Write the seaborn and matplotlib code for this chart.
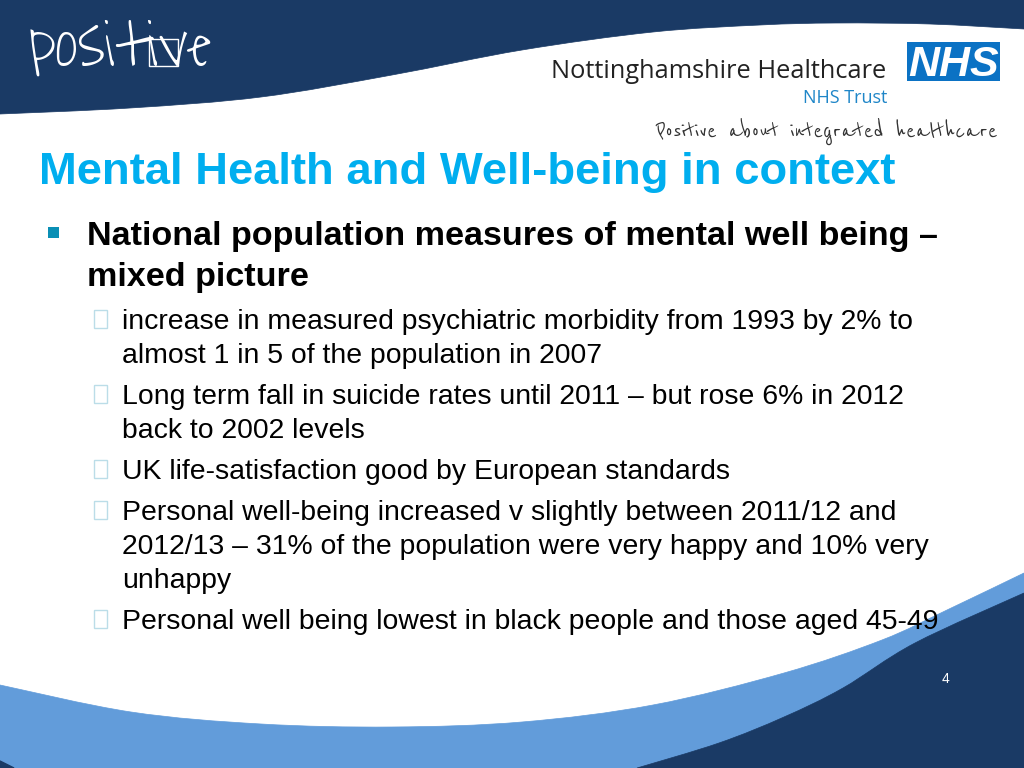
import numpy as np
import pandas as pd
import matplotlib
matplotlib.use("Agg")
import matplotlib.pyplot as plt
from matplotlib.patches import Rectangle, PathPatch
from matplotlib.path import Path
import seaborn as sns

NAVY = "#1A3A65"
LIGHT = "#629CDA"
CYAN = "#00AEEF"

top_x = [0, 130, 261, 392, 522, 653, 760, 836, 930, 1024]
top_y = [114, 108, 97, 75, 50, 32, 25, 23, 24, 29]
wave_x = [0, 131, 261, 392, 522, 653, 784, 882, 947, 1024]
wave_y = [685, 712, 724, 727, 722, 705, 673, 640, 610, 573]
dark_x = [637, 719, 784, 843, 915, 1024]
dark_y = [768, 743, 717, 688, 643, 593]

title = "Mental Health and Well-being in context"
heading_lines = ["National population measures of mental well being –", "mixed picture"]
heading_base = [245, 286]
body_lines = [
    "increase in measured psychiatric morbidity from 1993 by 2% to",
    "almost 1 in 5 of the population in 2007",
    "Long term fall in suicide rates until 2011 – but rose 6% in 2012",
    "back to 2002 levels",
    "UK life-satisfaction good by European standards",
    "Personal well-being increased v slightly between 2011/12 and",
    "2012/13 – 31% of the population were very happy and 10% very",
    "unhappy",
    "Personal well being lowest in black people and those aged 45-49",
]
body_base = [329, 363, 404, 438, 479, 520, 554, 588, 629]
bullet_rows = [0, 2, 4, 5, 8]


def smooth(xs, ys):
    p = np.column_stack([xs, ys]).astype(float)
    verts = [p[0]]
    codes = [Path.MOVETO]
    for i in range(len(p) - 1):
        a = p[max(i - 1, 0)]
        b = p[i]
        c = p[i + 1]
        d = p[min(i + 2, len(p) - 1)]
        verts += [b + (c - a) / 6, c - (d - b) / 6, c]
        codes += [Path.CURVE4] * 3
    return verts, codes


def region(ax, xs, ys, closing, color, z):
    v, c = smooth(xs, ys)
    for pt in closing:
        v.append(np.array(pt, float))
        c.append(Path.LINETO)
    v.append(v[0])
    c.append(Path.CLOSEPOLY)
    ax.add_patch(PathPatch(Path(v, c), fc=color, ec=color, lw=0.5, zorder=z))


sns.set_theme(style="white")
plt.rcParams["font.family"] = ["Liberation Sans", "DejaVu Sans"]
fig = plt.figure(figsize=(10.24, 7.68), dpi=100, facecolor="white")
ax = fig.add_axes([0, 0, 1, 1])
sns.lineplot(data=pd.DataFrame({"x": top_x, "y": top_y}), x="x", y="y", ax=ax,
             color=NAVY, lw=0, sort=False)
ax.set_xlim(0, 1024)
ax.set_ylim(768, 0)
ax.axis("off")

region(ax, top_x, top_y, [(1024, 0), (0, 0)], NAVY, 1)
region(ax, wave_x, wave_y, [(1024, 768), (0, 768)], LIGHT, 1)
region(ax, dark_x, dark_y, [(1024, 768)], NAVY, 2)
ax.fill([0, 14, 0], [761, 768, 768], color=NAVY, zorder=2)

px = 0.72
HAND = ["Reenie Beanie", "Liberation Serif"]
THIN = ["Waiting for the Sunrise", "Reenie Beanie", "Liberation Serif"]

# logo
ax.text(29, 66, "positive", color="white", fontsize=70 * px, family=THIN,
        zorder=5, va="baseline")
ax.add_patch(Rectangle((149, 39), 29, 27, fc="none", ec="white", lw=1, zorder=5))

# trust branding
ax.text(551, 78, "Nottinghamshire Healthcare", color="#222222",
        fontsize=25.4 * px, family="Open Sans", va="baseline", zorder=5)
ax.text(887, 103, "NHS Trust", color="#1F86C8", fontsize=18 * px, family="Open Sans",
        ha="right", va="baseline", zorder=5)
ax.add_patch(Rectangle((907, 42), 93, 39, fc="#0B72C4", ec="none", zorder=5))
ax.text(953.5, 76, "NHS", color="white", fontsize=43 * px, weight="bold", style="italic",
        ha="center", va="baseline", zorder=6)
ax.text(655, 138, "Positive about integrated healthcare", color="#333333",
        fontsize=28 * px, family=HAND, va="baseline", zorder=5)

# title and text
ax.text(39, 184, title, color=CYAN, fontsize=45.4 * px, weight="bold", va="baseline", zorder=5)
ax.add_patch(Rectangle((48, 227), 11, 11, fc="#0A8FB5", ec="none", zorder=5))
for s, b in zip(heading_lines, heading_base):
    ax.text(87, b, s, color="black", fontsize=34.1 * px, weight="bold", va="baseline", zorder=5)
for i, (s, b) in enumerate(zip(body_lines, body_base)):
    ax.text(122, b, s, color="black", fontsize=28.4 * px, va="baseline", zorder=5)
    if i in bullet_rows:
        ax.add_patch(Rectangle((93.5, b - 19), 13, 18, fc="none", ec="#BBDDE8", lw=1, zorder=5))

ax.text(945.5, 683, "4", color="white", fontsize=14 * px, ha="center", va="baseline", zorder=5)

fig.savefig("out.png", dpi=100, facecolor="white")
